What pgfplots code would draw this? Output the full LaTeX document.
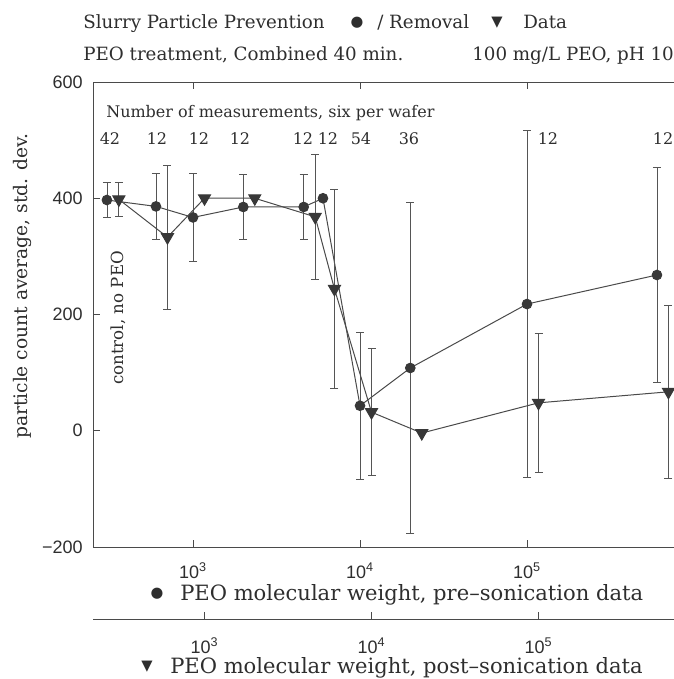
\documentclass[border=0pt]{standalone}
\usepackage{pgfplots}
\pgfplotsset{compat=1.18}
\usepackage{fontspec}
\setmainfont{DejaVu Serif}
\newfontfamily\tickfont{Liberation Sans}
\newfontfamily\symfont{DejaVu Sans}
\definecolor{ink}{HTML}{2E2E2E}
\definecolor{mk}{HTML}{383838}
\definecolor{ln}{HTML}{4A4A4A}
\definecolor{barc}{HTML}{555555}
\newcommand{\hfont}{\fontsize{13.7}{16}\selectfont}
\newcommand{\lfont}{\fontsize{15.8}{18}\selectfont}
\newcommand{\sfont}{\fontsize{12}{14}\selectfont}
\newcommand{\yfont}{\fontsize{14}{16}\selectfont}
\newcommand{\cfont}{\fontsize{12.5}{14}\selectfont}
\newcommand{\tfont}{\tickfont\fontsize{13.5}{15}\selectfont}
\newcommand{\mfont}{\symfont\fontsize{11}{12}\selectfont}
\begin{document}
\begin{tikzpicture}
\useasboundingbox (0,0) rectangle (505.5pt,-509.25pt);
\clip (0,0) rectangle (505.5pt,-509.25pt);
% pre-sonication axis (circles)
\begin{axis}[scale only axis, anchor=south west, width=462.75pt, height=348.75pt,
  at={(69.75pt,-410.25pt)},
  xmode=log, xminorticks=false, tick align=inside, major tick length=5.25pt,
  axis line style={ln, line width=0.7pt}, major tick style={ln, line width=0.7pt},
  xmin=251.8, xmax=1246800, ymin=-200, ymax=600,
  xtick={1000,10000,100000},
  xticklabels={10\textsuperscript{3},10\textsuperscript{4},10\textsuperscript{5}},
  ytick={-200,0,200,400,600}, yticklabels={−200,0,200,400,600},
  xtick pos=both, xticklabel pos=lower, ytick pos=left,
  ticklabel style={font=\tfont, text=ink},
  xticklabel style={anchor=base, yshift=-23.25pt},
  yticklabel style={anchor=east, inner sep=0pt, xshift=-7.5pt}]
\addplot[forget plot, only marks, mark=none,
  error bars/y dir=both, error bars/y explicit,
  error bars/error bar style={barc, line width=0.6pt},
  error bars/error mark options={rotate=90, mark size=3pt, barc, line width=0.6pt}]
  coordinates {(305,397) +- (0,30) (600,386) +- (0,56) (1000,367) +- (0,75)
  (2000,385) +- (0,56) (4600,385) +- (0,56) (10000,43) +- (0,126) (20000,108) +- (0,285)
  (100000,218) +- (0,298) (600000,268) +- (0,185)};
\addplot[ln, line width=0.75pt, mark=*, mark size=3.6pt, mark options={fill=mk, draw=mk}]
  coordinates {(305,397) (600,386) (1000,367) (2000,385) (4600,385) (6000,400)
  (10000,43) (20000,108) (100000,218) (600000,268)};
\end{axis}
% post-sonication axis (triangles)
\begin{axis}[scale only axis, anchor=south west, width=462.75pt, height=402.75pt,
  at={(69.75pt,-464.25pt)},
  xmode=log, xminorticks=false, tick align=inside, major tick length=5.25pt,
  axis line style={ln, line width=0.7pt}, major tick style={ln, line width=0.7pt},
  xmin=214.9, xmax=1064000, ymin=-323.9, ymax=600,
  axis x line*=bottom, axis y line=none, ytick=\empty,
  xtick={1000,10000,100000},
  xticklabels={10\textsuperscript{3},10\textsuperscript{4},10\textsuperscript{5}},
  ticklabel style={font=\tfont, text=ink},
  xticklabel style={anchor=base, yshift=-25.5pt}]
\addplot[forget plot, only marks, mark=none,
  error bars/y dir=both, error bars/y explicit,
  error bars/error bar style={barc, line width=0.6pt},
  error bars/error mark options={rotate=90, mark size=3pt, barc, line width=0.6pt}]
  coordinates {(307,398) +- (0,30) (600,333) +- (0,124) (4600,368) +- (0,107)
  (6000,244) +- (0,171) (10000,32) +- (0,109) (100000,48) +- (0,120) (600000,67) +- (0,149)};
\addplot[ln, line width=0.75pt, mark=triangle*, mark size=5.2pt,
  mark options={rotate=180, fill=mk, draw=mk}]
  coordinates {(307,398) (600,333) (1000,400) (2000,400) (4600,368) (6000,244)
  (10000,32) (20000,-4) (100000,48) (600000,67)};
\end{axis}
\begin{scope}[x=0.75pt, y=-0.75pt, every node/.style={inner sep=0pt, text=ink}]
\node[anchor=base west, font=\hfont] at (83,28) {Slurry Particle Prevention};
\node[font=\mfont] at (357,23) {●};
\node[anchor=base west, font=\hfont] at (377,28) {/ Removal};
\node[font=\mfont] at (497,23) {▼};
\node[anchor=base west, font=\hfont] at (523,28) {Data};
\node[anchor=base west, font=\hfont] at (83,60) {PEO treatment, Combined 40 min.};
\node[anchor=base west, font=\hfont] at (472,60) {100 mg/L PEO, pH 10};
\node[anchor=base west, font=\sfont] at (106,117) {Number of measurements, six per wafer};
\foreach \xx/\lab in {110/42,157/12,199/12,240/12,303/12,328/12,361/54,409/36,548/12,663/12}
  \node[anchor=base, font=\sfont] at (\xx,144) {\lab};
\node[rotate=90, font=\cfont] at (118,318) {control, no PEO};
\node[rotate=90, font=\yfont] at (22,286) {particle count average, std. dev.};
\node[font=\mfont] at (157,594) {●};
\node[anchor=base west, font=\lfont] at (180,600) {PEO molecular weight, pre--sonication data};
\node[font=\mfont] at (147,667) {▼};
\node[anchor=base west, font=\lfont] at (170,673) {PEO molecular weight, post--sonication data};
\end{scope}
\end{tikzpicture}
\end{document}
